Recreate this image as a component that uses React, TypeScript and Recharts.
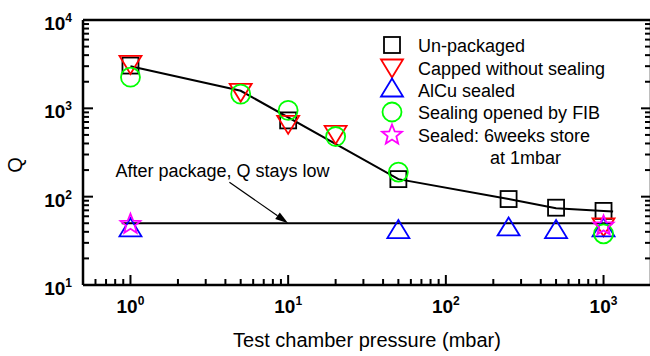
import React from 'react';
import { ScatterChart, Scatter, XAxis, YAxis, ReferenceLine, Legend, Label } from 'recharts';

// measured data (pressure in mbar, Q)
const unpackagedX = [1, 10, 50, 250, 500, 1000];
const unpackagedQ = [3050, 730, 158, 94, 75, 69];
const cappedX = [1, 5, 10, 20, 1000];
const cappedQ = [3100, 1500, 650, 500, 45];
const alcuX = [1, 50, 250, 500, 1000];
const alcuQ = [45, 43, 46, 43, 45];
const fibX = [1, 5, 10, 20, 50, 1000];
const fibQ = [2250, 1450, 950, 480, 190, 38];
const storedX = [1, 1000];
const storedQ = [50, 48];

// guide lines
const trendX = [1, 5, 50, 250, 500, 1000, 1150];
const trendQ = [3000, 1580, 158, 94, 74, 69, 68];
const packagedX = [0.88, 1150];
const packagedQ = [50, 50];
const arrowFrom = { x: 4.24, y: 146 };
const arrowTo = { x: 10, y: 50 };

const xTicks = [0.6, 0.7, 0.8, 0.9, 1, 2, 3, 4, 5, 6, 7, 8, 9, 10, 20, 30, 40, 50, 60, 70, 80, 90,
    100, 200, 300, 400, 500, 600, 700, 800, 900, 1000];
const yTicks = [10, 20, 30, 40, 50, 60, 70, 80, 90, 100, 200, 300, 400, 500, 600, 700, 800, 900,
    1000, 2000, 3000, 4000, 5000, 6000, 7000, 8000, 9000, 10000];

const legendNames = ['Un-packaged', 'Capped without sealing', 'AlCu sealed', 'Sealing opened by FIB', 'Sealed: 6weeks store'];
const legendNote = 'at 1mbar';

const FONT = '"Liberation Sans", Arial, sans-serif';

const toPoints = (xs: number[], qs: number[]) => xs.map((x, i) => ({ x, q: qs[i] }));

const Square = ({ cx, cy }: any) => (
    <rect x={cx - 8} y={cy - 8} width={16} height={16} fill="none" stroke="#000" strokeWidth={1.8} />
);
const TriDown = ({ cx, cy }: any) => (
    <path d={`M${cx - 11},${cy - 9}L${cx + 11},${cy - 9}L${cx},${cy + 9}Z`} fill="none" stroke="#ff0000" strokeWidth={1.8} />
);
const TriUp = ({ cx, cy }: any) => (
    <path d={`M${cx},${cy - 9}L${cx + 11},${cy + 9}L${cx - 11},${cy + 9}Z`} fill="none" stroke="#0000ff" strokeWidth={1.8} />
);
const Ring = ({ cx, cy }: any) => (
    <circle cx={cx} cy={cy} r={9.5} fill="none" stroke="#00ff00" strokeWidth={1.8} />
);
const Star = ({ cx, cy }: any) => {
    const pts: string[] = [];
    for (let i = 0; i < 10; i++) {
        const r = i % 2 === 0 ? 10.5 : 4.6;
        const a = -Math.PI / 2 + (i * Math.PI) / 5;
        pts.push(`${cx + r * Math.cos(a)},${cy + 1 + r * Math.sin(a)}`);
    }
    return <polygon points={pts.join(' ')} fill="none" stroke="#ff00ff" strokeWidth={1.8} />;
};
const NoDot = () => <g />;

const isMajor = (v: number) => Math.abs(Math.log10(v) - Math.round(Math.log10(v))) < 1e-9;

const BottomTick = ({ x, y, payload }: any) => {
    const major = isMajor(payload.value);
    return (
        <g>
            <line x1={x} x2={x} y1={y} y2={y - (major ? 10 : 6)} stroke="#000" strokeWidth={2} />
            {major && (
                <text x={x} y={y + 28} textAnchor="middle" fontFamily={FONT} fontWeight="bold" fontSize={19} fill="#000">
                    10<tspan dy={-8} fontSize={12}>{Math.round(Math.log10(payload.value))}</tspan>
                </text>
            )}
        </g>
    );
};
const TopTick = ({ x, y, payload }: any) => (
    <line x1={x} x2={x} y1={y} y2={y + (isMajor(payload.value) ? 10 : 6)} stroke="#000" strokeWidth={2} />
);
const LeftTick = ({ x, y, payload }: any) => {
    const major = isMajor(payload.value);
    return (
        <g>
            <line x1={x} x2={x + (major ? 10 : 6)} y1={y} y2={y} stroke="#000" strokeWidth={2} />
            {major && (
                <text x={x - 11} y={y + 10} textAnchor="end" fontFamily={FONT} fontWeight="bold" fontSize={19} fill="#000">
                    10<tspan dy={-8} fontSize={12}>{Math.round(Math.log10(payload.value))}</tspan>
                </text>
            )}
        </g>
    );
};
const RightTick = ({ x, y, payload }: any) => (
    <line x1={x} x2={x - (isMajor(payload.value) ? 10 : 6)} y1={y} y2={y} stroke="#000" strokeWidth={2} />
);

const Arrow = ({ x1, y1, x2, y2 }: any) => {
    const ang = Math.atan2(y2 - y1, x2 - x1);
    const len = 13, half = 4;
    const bx = x2 - len * Math.cos(ang), by = y2 - len * Math.sin(ang);
    const nx = -Math.sin(ang) * half, ny = Math.cos(ang) * half;
    return (
        <g>
            <line x1={x1} y1={y1} x2={bx} y2={by} stroke="#000" strokeWidth={1.2} />
            <polygon points={`${x2},${y2} ${bx + nx},${by + ny} ${bx - nx},${by - ny}`} fill="#000" />
            <text x={x1 - 114} y={y1 - 5} fontFamily={FONT} fontSize={18} fill="#000">After package, Q stays low</text>
        </g>
    );
};

const LegendBox = () => {
    const shapes = [Square, TriDown, TriUp, Ring, Star];
    const centers = [45, 68.5, 87.5, 112, 134];
    const baselines = [51.5, 74.5, 96.5, 118.5, 141.5];
    return (
        <svg width={260} height={140} style={{ overflow: 'visible' }}>
            <g transform="translate(-380,-33)">
                {legendNames.map((name, i) => {
                    const S = shapes[i];
                    return (
                        <g key={name}>
                            <S cx={392} cy={centers[i]} />
                            <text x={418} y={baselines[i]} fontFamily={FONT} fontSize={18} fill="#000">{name}</text>
                        </g>
                    );
                })}
                <text x={490} y={163.5} fontFamily={FONT} fontSize={18} fill="#000">{legendNote}</text>
            </g>
        </svg>
    );
};

export default function App() {
    return (
        <div style={{ position: 'absolute', left: 0, top: 0, width: 650, height: 356, overflow: 'hidden', background: '#fff' }}>
            <ScatterChart width={660} height={356} margin={{ top: 19, right: 8, bottom: 70, left: 82 }}>
                <XAxis type="number" dataKey="x" scale="log" domain={[0.5, 2000]} allowDataOverflow
                    ticks={xTicks} interval={0} tickSize={0} tickMargin={0} height={1}
                    axisLine={{ stroke: '#000', strokeWidth: 2.5 }} tick={<BottomTick />}>
                    <Label content={({ viewBox }: any) => (
                        <text x={viewBox.x + viewBox.width / 2} y={viewBox.y + 62} textAnchor="middle"
                            fontFamily={FONT} fontSize={20} fill="#000">Test chamber pressure (mbar)</text>
                    )} />
                </XAxis>
                <XAxis xAxisId="top" orientation="top" type="number" scale="log" domain={[0.5, 2000]} allowDataOverflow
                    ticks={xTicks} interval={0} tickSize={0} tickMargin={0} height={1}
                    axisLine={{ stroke: '#000', strokeWidth: 2.5 }} tick={<TopTick />} />
                <YAxis type="number" dataKey="q" scale="log" domain={[10, 10000]} allowDataOverflow
                    ticks={yTicks} interval={0} tickSize={0} tickMargin={0} width={1}
                    axisLine={{ stroke: '#000', strokeWidth: 2.5 }} tick={<LeftTick />}>
                    <Label content={({ viewBox }: any) => (
                        <text x={viewBox.x - 60} y={viewBox.y + 145} textAnchor="middle"
                            transform={`rotate(-90, ${viewBox.x - 60}, ${viewBox.y + 145})`}
                            fontFamily={FONT} fontSize={20} fill="#000">Q</text>
                    )} />
                </YAxis>
                <YAxis yAxisId="right" orientation="right" type="number" scale="log" domain={[10, 10000]} allowDataOverflow
                    ticks={yTicks} interval={0} tickSize={0} tickMargin={0} width={1}
                    axisLine={{ stroke: '#000', strokeWidth: 2.5 }} tick={<RightTick />} />

                <Scatter data={toPoints(trendX, trendQ)} line={{ stroke: '#000', strokeWidth: 2 }} lineType="joint"
                    shape={<NoDot />} isAnimationActive={false} legendType="none" />
                <Scatter data={toPoints(packagedX, packagedQ)} line={{ stroke: '#000', strokeWidth: 1.8 }} lineType="joint"
                    shape={<NoDot />} isAnimationActive={false} legendType="none" />
                <ReferenceLine segment={[arrowFrom, arrowTo]} shape={<Arrow />} ifOverflow="visible" />

                <Scatter name="Un-packaged" data={toPoints(unpackagedX, unpackagedQ)} shape={<Square />} isAnimationActive={false} />
                <Scatter name="Capped without sealing" data={toPoints(cappedX, cappedQ)} shape={<TriDown />} isAnimationActive={false} />
                <Scatter name="AlCu sealed" data={toPoints(alcuX, alcuQ)} shape={<TriUp />} isAnimationActive={false} />
                <Scatter name="Sealing opened by FIB" data={toPoints(fibX, fibQ)} shape={<Ring />} isAnimationActive={false} />
                <Scatter name="Sealed: 6weeks store at 1mbar" data={toPoints(storedX, storedQ)} shape={<Star />} isAnimationActive={false} />

                <Legend layout="vertical" align="center" verticalAlign="middle"
                    wrapperStyle={{ left: 380, top: 33, width: 260, height: 140 }} content={() => <LegendBox />} />
            </ScatterChart>
        </div>
    );
}
